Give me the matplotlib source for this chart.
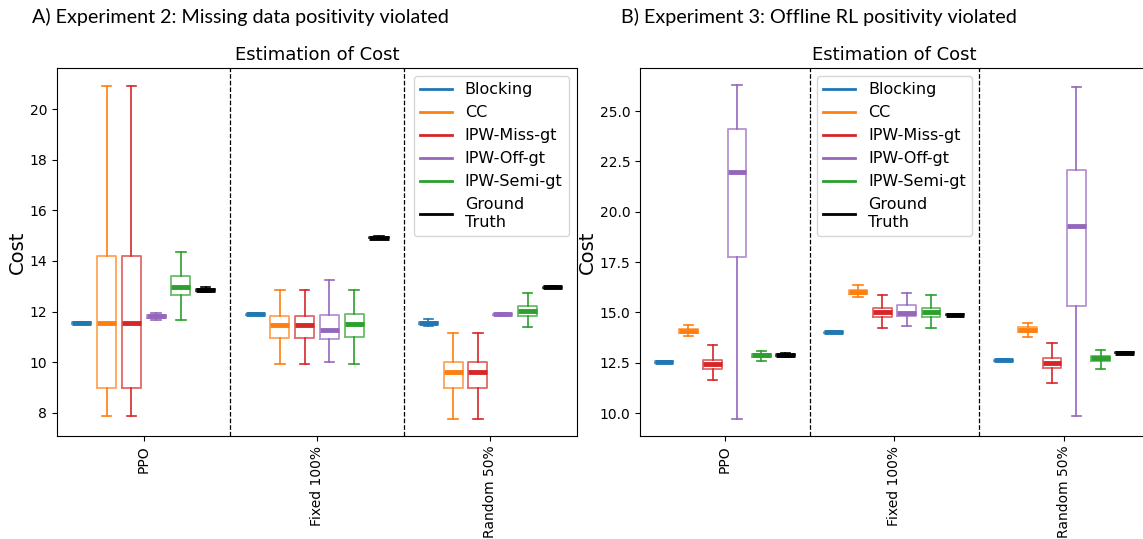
import matplotlib
matplotlib.use("Agg")
import matplotlib.pyplot as plt
from matplotlib.lines import Line2D

groups = ["PPO", "Fixed 100%", "Random 50%"]
methods = ["Blocking", "CC", "IPW-Miss-gt", "IPW-Off-gt", "IPW-Semi-gt", "Ground\nTruth"]
colors = ["tab:blue", "tab:orange", "tab:red", "tab:purple", "tab:green", "black"]

# (whislo, q1, med, q3, whishi) per group
# A) Experiment 2
a_blocking = [(11.50, 11.53, 11.55, 11.58, 11.60), (11.85, 11.87, 11.89, 11.91, 11.93), (11.45, 11.50, 11.54, 11.58, 11.70)]
a_cc = [(7.88, 9.00, 11.55, 14.18, 20.92), (9.95, 10.95, 11.47, 11.83, 12.85), (7.75, 8.99, 9.60, 10.01, 11.17)]
a_miss = [(7.88, 9.00, 11.55, 14.18, 20.92), (9.95, 10.95, 11.47, 11.83, 12.85), (7.75, 8.99, 9.60, 10.01, 11.17)]
a_off = [(11.66, 11.75, 11.82, 11.88, 11.93), (10.02, 10.92, 11.29, 11.86, 13.25), (11.84, 11.86, 11.89, 11.92, 11.94)]
a_semi = [(11.66, 12.65, 12.99, 13.41, 14.35), (9.95, 11.00, 11.50, 11.89, 12.85), (11.41, 11.82, 12.03, 12.22, 12.75)]
a_truth = [(12.78, 12.83, 12.87, 12.91, 12.96), (14.87, 14.90, 14.92, 14.94, 14.97), (12.92, 12.94, 12.96, 12.98, 13.00)]

# B) Experiment 3
b_blocking = [(12.48, 12.51, 12.54, 12.57, 12.60), (13.97, 14.00, 14.02, 14.04, 14.07), (12.57, 12.60, 12.63, 12.66, 12.69)]
b_cc = [(13.84, 14.00, 14.10, 14.20, 14.39), (15.78, 15.90, 16.02, 16.13, 16.35), (13.79, 14.02, 14.15, 14.25, 14.45)]
b_miss = [(11.63, 12.18, 12.44, 12.66, 13.36), (14.24, 14.77, 15.00, 15.23, 15.87), (11.51, 12.23, 12.49, 12.73, 13.46)]
b_off = [(9.69, 17.73, 21.98, 24.10, 26.31), (14.34, 14.82, 14.98, 15.35, 15.95), (9.85, 15.30, 19.27, 22.08, 26.21)]
b_semi = [(12.59, 12.78, 12.89, 12.95, 13.08), (14.24, 14.77, 15.02, 15.23, 15.87), (12.18, 12.60, 12.71, 12.85, 13.11)]
b_truth = [(12.80, 12.85, 12.89, 12.93, 12.97), (14.84, 14.86, 14.88, 14.90, 14.92), (12.95, 12.97, 12.99, 13.01, 13.03)]


def draw_panel(ax, series, ylim, legend_loc):
    for i, (s, c) in enumerate(zip(series, colors)):
        stats = [dict(whislo=lo, q1=q1, med=med, q3=q3, whishi=hi, fliers=[])
                 for lo, q1, med, q3, hi in s]
        pos = [g + (i - 2.5) * 0.143 for g in range(len(groups))]
        ax.bxp(stats, positions=pos, widths=0.11, showfliers=False, manage_ticks=False,
               boxprops=dict(color=c, alpha=0.7, linewidth=1.3),
               whiskerprops=dict(color=c, linewidth=1.2),
               capprops=dict(color=c, linewidth=1.2),
               medianprops=dict(color=c, linewidth=3.5))
    ax.axvline(0.5, color="black", linestyle="--", linewidth=0.9)
    ax.axvline(1.5, color="black", linestyle="--", linewidth=0.9)
    ax.set_xlim(-0.5, 2.5)
    ax.set_ylim(*ylim)
    ax.set_xticks(range(len(groups)))
    ax.set_xticklabels(groups, rotation=90, fontsize=10)
    ax.set_ylabel("Cost", fontsize=14, labelpad=2)
    ax.set_title("Estimation of Cost", fontsize=13)
    handles = [Line2D([], [], color=c, linewidth=2) for c in colors]
    ax.legend(handles, methods, loc=legend_loc, fontsize=11.5)


fig = plt.figure(figsize=(11.43, 5.39), dpi=100)
ax1 = fig.add_axes([0.0499, 0.1911, 0.4549, 0.6827])
ax2 = fig.add_axes([0.5599, 0.1911, 0.4453, 0.6827])

draw_panel(ax1, [a_blocking, a_cc, a_miss, a_off, a_semi, a_truth], (7.09, 21.62), "upper right")
draw_panel(ax2, [b_blocking, b_cc, b_miss, b_off, b_semi, b_truth], (8.86, 27.14), "upper center")
ax2.yaxis.set_major_formatter(matplotlib.ticker.FormatStrFormatter("%.1f"))

fig.text(0.028, 0.968, "A) Experiment 2: Missing data positivity violated",
         fontsize=14.2, family="Lato", va="center")
fig.text(0.543, 0.968, "B) Experiment 3: Offline RL positivity violated",
         fontsize=14.2, family="Lato", va="center")

fig.savefig("out.png", dpi=100)
